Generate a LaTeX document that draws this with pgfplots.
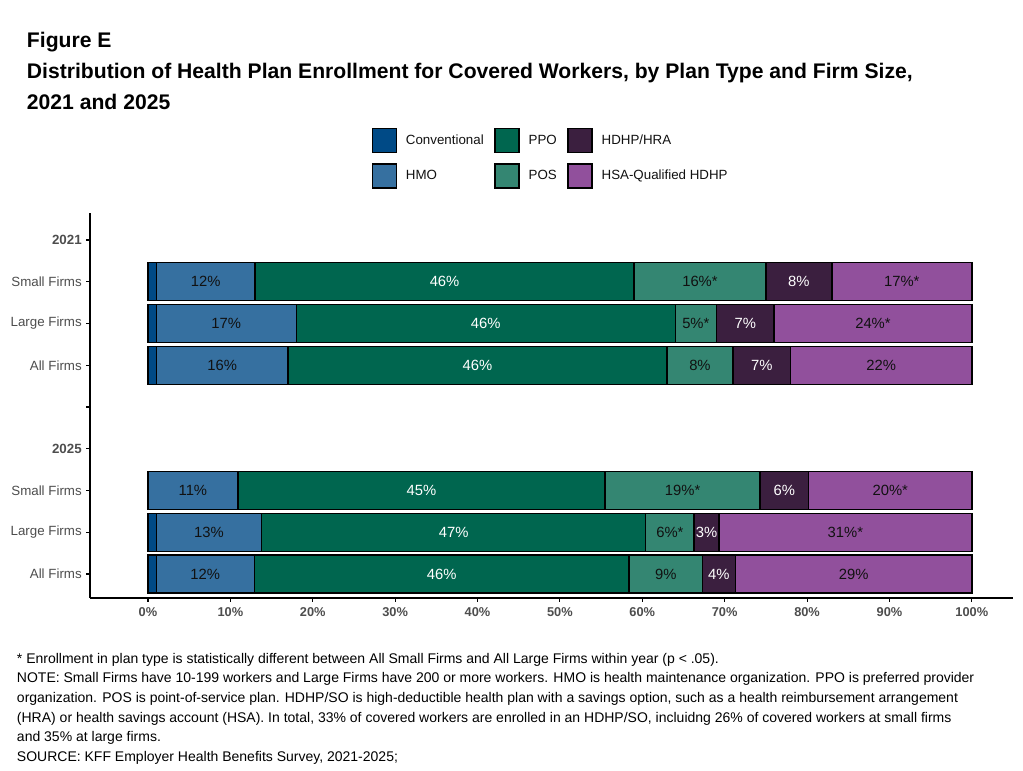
\documentclass[border=0pt]{standalone}
\usepackage{pgfplots}
\pgfplotsset{compat=1.18}
\usepackage{pgfplotstable}
\usepackage{fontspec}
\setmainfont{Liberation Sans}
\definecolor{cConv}{HTML}{004A86}
\definecolor{cHMO}{HTML}{3670A0}
\definecolor{cPPO}{HTML}{00664F}
\definecolor{cPOS}{HTML}{348672}
\definecolor{cHRA}{HTML}{3B1F3F}
\definecolor{cHSA}{HTML}{91509C}
\definecolor{tickgray}{HTML}{4D4D4D}
\definecolor{labdark}{HTML}{111111}

% segment values (percent); y: 1=All 2025, 2=Large 2025, 3=Small 2025, 6=All 2021, 7=Large 2021, 8=Small 2021
\pgfplotstableread{
y conv hmo ppo pos hra hsa
1 1 11.9 45.5 8.9 4.0 28.7
2 1 12.8 46.6 5.9 3.0 30.7
3 0 10.9 44.6 18.8 5.9 19.8
6 1 16 46 8 7 22
7 1 17 46 5 7 24
8 1 12 46 16 8 17
}\segdata

% label centres, dark text
\pgfplotstableread{
x y label
6.95 1 12\%
62.85 1 9\%
85.65 1 29\%
7.4 2 13\%
63.35 2 6\%*
84.65 2 31\%*
5.45 3 11\%
64.9 3 19\%*
90.1 3 20\%*
9 6 16\%
67 6 8\%
89 6 22\%
9.5 7 17\%
66.5 7 5\%*
88 7 24\%*
7 8 12\%
67 8 16\%*
91.5 8 17\%*
}\darklabels

% label centres, white text
\pgfplotstableread{
x y label
35.65 1 46\%
69.3 1 4\%
37.1 2 47\%
67.8 2 3\%
33.2 3 45\%
77.25 3 6\%
40 6 46\%
74.5 6 7\%
41 7 46\%
72.5 7 7\%
36 8 46\%
79 8 8\%
}\whitelabels

\begin{document}
\begin{tikzpicture}[x=0.75pt,y=0.75pt]
\path[use as bounding box] (0,0) rectangle (1023,770);
% titles
\node[anchor=base west, inner sep=0pt, font=\bfseries\fontsize{15.85}{18}\selectfont] at (26.7,722) {Figure E};
\node[anchor=base west, inner sep=0pt, font=\bfseries\fontsize{15.85}{18}\selectfont] at (26.7,691) {Distribution of Health Plan Enrollment for Covered Workers, by Plan Type and Firm Size,};
\node[anchor=base west, inner sep=0pt, font=\bfseries\fontsize{15.85}{18}\selectfont] at (26.7,660) {2021 and 2025};

% footnotes
\begin{scope}[every node/.style={anchor=base west, inner sep=0pt, font=\fontsize{10.5}{12}\selectfont}]
\node at (16.7,106.7) {* Enrollment in plan type is statistically different between All Small Firms and All Large Firms within year (p < .05).};
\node at (16.7,87.3) {NOTE: Small Firms have 10-199 workers and Large Firms have 200 or more workers. HMO is health maintenance organization. PPO is preferred provider};
\node at (16.7,67.6) {organization. POS is point-of-service plan. HDHP/SO is high-deductible health plan with a savings option, such as a health reimbursement arrangement};
\node at (16.7,47.9) {(HRA) or health savings account (HSA). In total, 33\% of covered workers are enrolled in an HDHP/SO, incluidng 26\% of covered workers at small firms};
\node at (16.7,28.2) {and 35\% at large firms.};
\node at (16.7,8.5) {SOURCE: KFF Employer Health Benefits Survey, 2021-2025;};
\end{scope}

\begin{axis}[
  at={(67.5pt,129pt)}, anchor=south west,
  scale only axis, width=692.25pt, height=288.75pt,
  xbar stacked, bar width=0.91,
  xmin=-7.04, xmax=105.0,
  ymin=0.425, ymax=9.647,
  axis x line*=bottom, axis y line*=left,
  axis line style={line width=0.8pt, black},
  xtick={0,10,...,100},
  /pgf/number format/assume math mode=true,
  xticklabel={\pgfmathprintnumber{\tick}\%},
  xticklabel style={font=\bfseries\fontsize{9.6}{11}\selectfont, text=tickgray, inner sep=0pt, yshift=-4pt},
  ytick={1,2,3,4,5,6,7,8,9},
  yticklabels={All Firms, Large Firms, Small Firms, \textbf{2025}, {}, All Firms, Large Firms, Small Firms, \textbf{2021}},
  yticklabel style={font=\fontsize{10}{12}\selectfont, text=tickgray, inner sep=0pt, xshift=-3pt},
  tick align=outside, major tick length=3pt,
  tick style={line width=0.8pt, black},
  every axis plot/.append style={draw=black, line width=1.1pt},
  clip=false,
]
\addplot[fill=cConv] table[x=conv, y=y] {\segdata};
\addplot[fill=cHMO] table[x=hmo, y=y] {\segdata};
\addplot[fill=cPPO] table[x=ppo, y=y] {\segdata};
\addplot[fill=cPOS] table[x=pos, y=y] {\segdata};
\addplot[fill=cHRA] table[x=hra, y=y] {\segdata};
\addplot[fill=cHSA] table[x=hsa, y=y] {\segdata};
\end{axis}

\begin{axis}[
  at={(67.5pt,129pt)}, anchor=south west,
  scale only axis, width=692.25pt, height=288.75pt,
  xmin=-7.04, xmax=105.0,
  ymin=0.425, ymax=9.647,
  axis lines=none, clip=false,
  legend columns=3,
  legend cell align=left,
  legend style={at={(0.3052,1.22)}, anchor=north west, draw=none, fill=none,
    inner sep=0pt, outer sep=0pt,
    font=\fontsize{10}{12}\selectfont, text=labdark,
    row sep=7.5pt,
    /tikz/every even column/.append style={column sep=6pt}},
  legend image code/.code={\draw[#1, draw=black, line width=0.9pt] (0pt,-9pt) rectangle (18pt,9pt); \path (23pt,0pt);},
]
\addlegendimage{fill=cConv}\addlegendentry{Conventional}
\addlegendimage{fill=cPPO}\addlegendentry{PPO}
\addlegendimage{fill=cHRA}\addlegendentry{HDHP/HRA}
\addlegendimage{fill=cHMO}\addlegendentry{HMO}
\addlegendimage{fill=cPOS}\addlegendentry{POS}
\addlegendimage{fill=cHSA}\addlegendentry{HSA-Qualified HDHP}
\addplot[only marks, mark=*, mark size=0pt, mark options={draw=none, fill=none},
  nodes near coords, point meta=explicit symbolic,
  nodes near coords style={anchor=center, inner sep=0pt, text opacity=1, font=\fontsize{11.1}{12}\selectfont, text=labdark}]
  table[x=x, y=y, meta=label] {\darklabels};
\addplot[only marks, mark=*, mark size=0pt, mark options={draw=none, fill=none},
  nodes near coords, point meta=explicit symbolic,
  nodes near coords style={anchor=center, inner sep=0pt, text opacity=1, font=\fontsize{11.1}{12}\selectfont, text=white}]
  table[x=x, y=y, meta=label] {\whitelabels};
\end{axis}
\end{tikzpicture}
\end{document}
